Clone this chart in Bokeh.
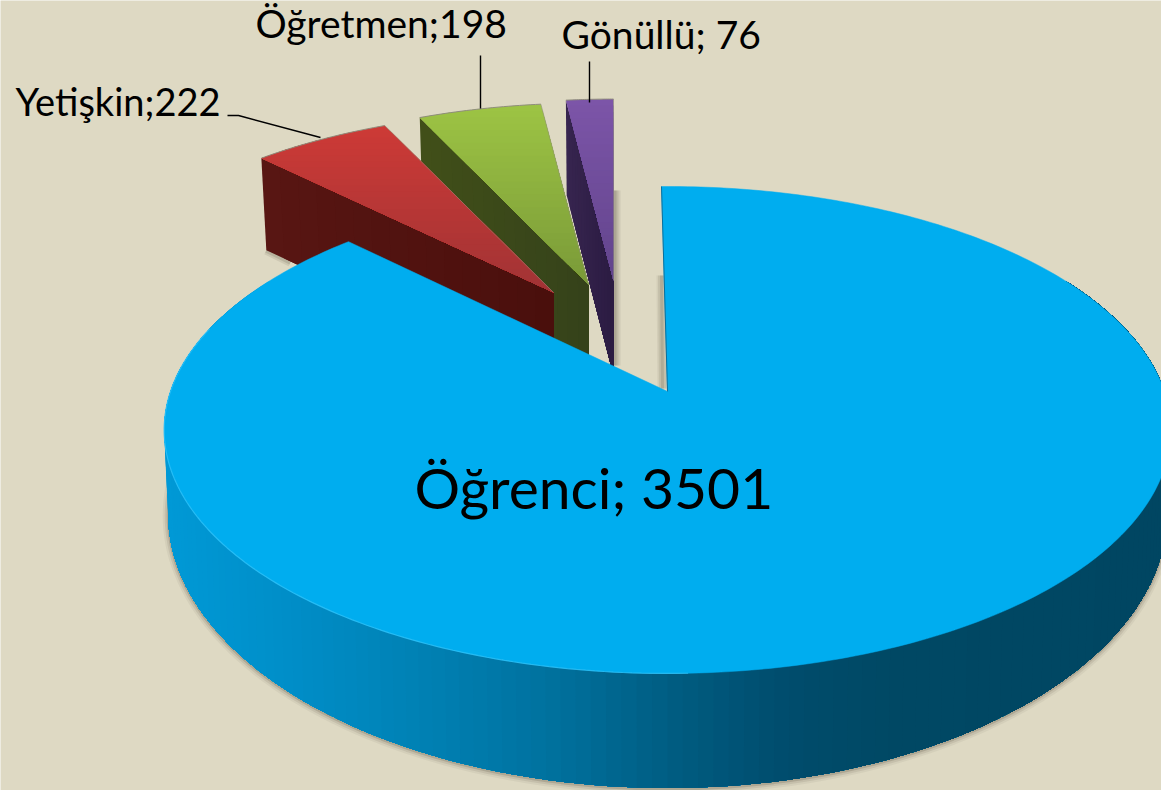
import numpy as np
from bokeh.plotting import figure
from bokeh.models import Range1d
from bokeh.core.properties import value
from bokeh.embed import file_html
from bokeh.resources import INLINE

# ---- data ----
categories = ["Öğrenci", "Yetişkin", "Öğretmen", "Gönüllü"]
counts = [3501, 222, 198, 76]
separators = ["; ", ";", ";", "; "]

# ---- styling / layout ----
BG = "#DED9C3"
FACE_TOP = ["#00ADEF", "#CD3A36", "#9DC444", "#7C55A8"]
FACE_BOT = ["#00ADEF", "#A13335", "#7A9A38", "#62448C"]
WALL_L = [None, "#581613", "#414F19", "#37254F"]
WALL_R = [None, "#4A0F0C", "#35421A", "#2B1B42"]
WALL_STOPS_X = [165, 300, 420, 550, 680, 790, 900, 1161]
WALL_STOPS_C = ["#0099D6", "#008DC6", "#0081B4", "#00719E", "#005B80", "#004C6C", "#004864", "#004662"]

CX, CY = 667.0, 391.0       # apex of the large slice on screen
A, B, K = 497.0, 237.4, 0.158   # perspective of the top plane
TA, K2 = 81.0, 0.293        # wall height and its perspective
BLUE_ROT = -0.8             # degrees
SX, SY = 0.93, 0.885        # scale of the pulled-out slices
APEX = [None, (553, 292), (588, 284), (613, 280)]
THICK = [None, 92, 90, 95]


def proj(theta_deg):
    t = np.radians(theta_deg)
    u, v = np.sin(t), -np.cos(t)
    w = 1 - K * v
    return A * u / w, B * v / w, v


def hex2rgb(h):
    return np.array([int(h[i:i + 2], 16) for i in (1, 3, 5)], float)


def mix(c0, c1, f):
    c = hex2rgb(c0) * (1 - f) + hex2rgb(c1) * f
    return "#%02x%02x%02x" % tuple(int(round(x)) for x in c)


def wall_color(x):
    rgb = [np.interp(x, WALL_STOPS_X, [hex2rgb(c)[i] for c in WALL_STOPS_C]) for i in range(3)]
    return "#%02x%02x%02x" % tuple(int(round(c)) for c in rgb)


def clip_below(poly, y0):
    out = []
    n = len(poly)
    for i in range(n):
        a, b = poly[i], poly[(i + 1) % n]
        ina, inb = a[1] >= y0, b[1] >= y0
        if ina:
            out.append(a)
        if ina != inb:
            f = (y0 - a[1]) / (b[1] - a[1])
            out.append((a[0] + f * (b[0] - a[0]), y0))
    return out


def vertical_bands(poly, c_top, c_bot, n=28):
    # painted top to bottom, each band reaching to the end, so no seams show
    ys = [q[1] for q in poly]
    edges = np.linspace(min(ys), max(ys), n + 1)
    xs_out, ys_out, cols = [], [], []
    for i in range(n):
        pp = clip_below(poly, edges[i])
        if len(pp) >= 3:
            xs_out.append([q[0] for q in pp])
            ys_out.append([q[1] for q in pp])
            cols.append(mix(c_top, c_bot, (i + 0.5) / n))
    return xs_out, ys_out, cols


total = sum(counts)
sweeps = [c / total * 360 for c in counts]
starts = [0.0]
for s in sweeps[:-1]:
    starts.append(starts[-1] + s)

p = figure(width=1161, height=790, output_backend="svg", toolbar_location=None,
           x_range=Range1d(0, 1161), y_range=Range1d(790, 0),
           x_axis_location=None, y_axis_location=None,
           min_border=0, background_fill_color=BG, border_fill_color=BG,
           outline_line_color=None)
p.grid.visible = False

# pulled-out slices, back to front
for i in [3, 2, 1]:
    ax, ay = APEX[i]
    th = np.linspace(starts[i], starts[i] + sweeps[i], 24)
    dx, dy, _ = proj(th)
    rim = list(zip(ax + SX * dx, ay + SY * dy))
    x0, y0 = rim[0]
    t = THICK[i]
    xb = ax + (x0 - ax) * 0.983
    # soft shadow beside this slice
    if i == 3:
        for wd, al in [(12, 0.10), (8, 0.14), (4, 0.18)]:
            p.line([ax + 1, ax + 1], [ay - 90, ay + t - 10], line_width=wd, line_color="#5a5240", line_alpha=al)
    if i == 1:
        for wd, al in [(9, 0.12), (5, 0.18)]:
            p.line([xb, ax + (x0 - ax) * 0.9], [y0 + t, y0 + t + 12],
                   line_width=wd, line_color="#5a5240", line_alpha=al)
    # wall, painted from the rim to the apex
    n = 16
    wx, wy, wc = [], [], []
    for j in range(n):
        f = j / n
        wx.append([x0 + f * (ax - x0), ax, ax, xb + f * (ax - xb)])
        wy.append([y0 + f * (ay - y0), ay, ay + t, y0 + t + f * (ay - y0)])
        wc.append(mix(WALL_L[i], WALL_R[i], (j + 0.5) / n))
    p.patches(wx, wy, fill_color=wc, line_color=None)
    # top face
    poly = rim + [(ax, ay)]
    bx, by, bc = vertical_bands(poly, FACE_TOP[i], FACE_BOT[i])
    p.patches(bx, by, fill_color=bc, line_color=None)
    p.line([q[0] for q in rim], [q[1] for q in rim], line_color="#8f8d7c", line_width=1)
    p.line([rim[-1][0], ax], [rim[-1][1], ay], line_color="#8f8d7c", line_width=0.8, line_alpha=0.7)

# large slice: shadow of the cut edge
for wd, al in [(10, 0.08), (7, 0.12), (3, 0.18)]:
    p.line([CX - 6, CX - 5], [CY - 116, CY - 3], line_width=wd, line_color="#5a5240", line_alpha=al)

# large slice: wall with horizontal shading
th = np.linspace(300, 60, 161)
dx, dy, v = proj(th)
T = TA / (1 - K2 * v)
tx, ty = CX + dx, CY + dy
lx, ly = CX + dx * 0.992, CY + dy + T

for wd, al in [(11, 0.07), (7, 0.12), (3, 0.22)]:
    p.line(lx, ly + 1, line_width=wd, line_color="#5a5240", line_alpha=al)

sx, sy, sc = [], [], []
for j in range(len(th) - 1):
    sx.append(list(tx[j:]) + list(lx[j:][::-1]))
    sy.append(list(ty[j:]) + list(ly[j:][::-1]))
    sc.append(wall_color((tx[j] + tx[j + 1]) / 2))
p.patches(sx, sy, fill_color=sc, line_color=None)

# large slice: top face
th = np.linspace(starts[0] + BLUE_ROT, starts[0] + BLUE_ROT + sweeps[0], 361)
dx, dy, _ = proj(th)
fx = [CX] + list(CX + dx)
fy = [CY] + list(CY + dy)
p.patch(fx, fy, fill_color=FACE_TOP[0], line_color=FACE_TOP[0], line_width=0.5)
p.line([CX + dx[0], CX], [CY + dy[0], CY], line_color="#0A6F9C", line_width=1)

# light rim on the front left
th = np.linspace(178, 286, 120)
dx, dy, _ = proj(th)
p.line(CX + dx, CY + dy, line_color="#35C6FB", line_width=1.2, line_alpha=0.7)

# labels
label = [f"{c}{s}{n}" for c, s, n in zip(categories, separators, counts)]
p.text([414], [486], text=[label[0]], text_font=value("Lato"), text_font_size="57px",
       text_baseline="alphabetic", text_align="left", text_color="#000000")
p.text([15], [100], text=[label[1]], text_font=value("Lato"), text_font_size="38px",
       text_baseline="alphabetic", text_align="left", text_color="#000000")
p.text([255, 561], [22, 33], text=[label[2], label[3]],
       text_font=value("Lato"), text_font_size="39px",
       text_baseline="alphabetic", text_align="left", text_color="#000000")

# leader lines
p.line([227, 238, 320], [115, 115, 137], line_color="#000000", line_width=1.4)
p.line([480, 480], [55, 108], line_color="#000000", line_width=1.4)
p.line([589, 589], [61, 102], line_color="#000000", line_width=1.4)

open("out.html", "w").write(file_html(p, INLINE))
